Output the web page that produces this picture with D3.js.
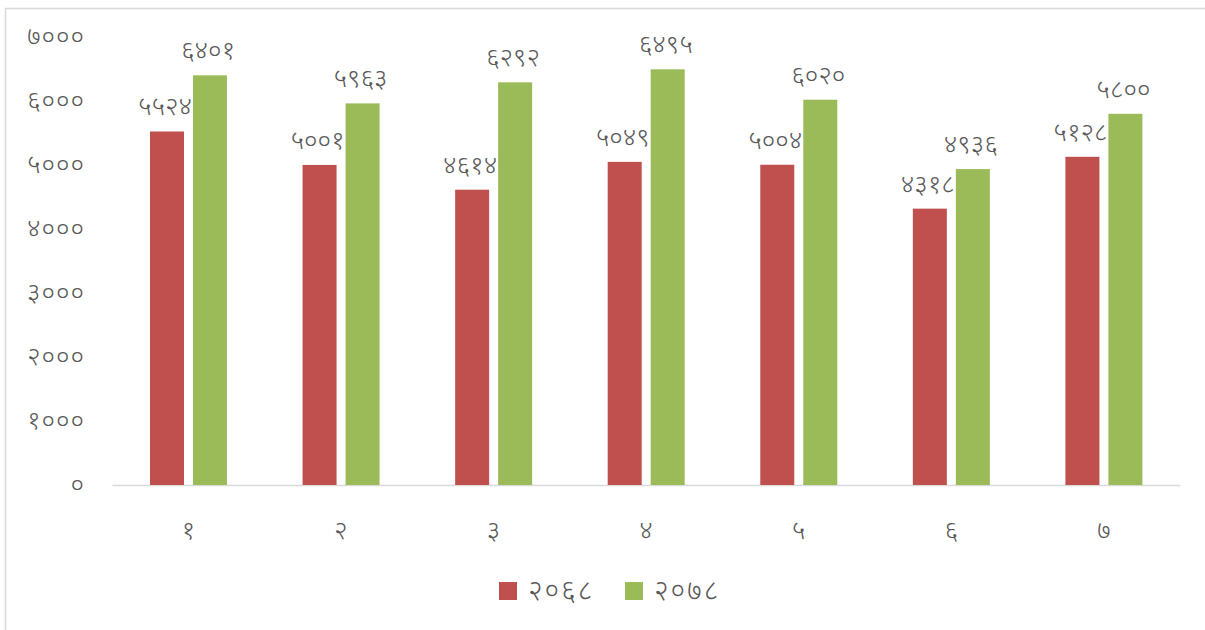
<!DOCTYPE html>
<html><head><meta charset="utf-8">
<script src="https://cdn.jsdelivr.net/npm/d3@7"></script>
<style>
html,body{margin:0;padding:0;background:#fff;}
text{font-family:"Noto Sans Devanagari","Noto Sans","Lohit Devanagari","DejaVu Sans",sans-serif;fill:#595959;font-weight:300;}
</style></head>
<body>
<svg id="chart" width="1205" height="630"></svg>
<script>
const categories = ["१","२","३","४","५","६","७"];
const seriesNames = ["२०६८","२०७८"];
const values2068 = [5524,5001,4614,5049,5004,4318,5128];
const values2078 = [6401,5963,6292,6495,6020,4936,5800];
const yTicks = [0,1000,2000,3000,4000,5000,6000,7000];
const colors = ["#C0504D","#9BBB59"];

const devDigits = "०१२३४५६७८९";
const toDev = n => String(n).replace(/[0-9]/g, d => devDigits[+d]);

const svg = d3.select("#chart");
svg.append("line").attr("x1",5.5).attr("x2",1205).attr("y1",8.5).attr("y2",8.5).attr("stroke","#d9d9d9").attr("stroke-width",1.5);
svg.append("line").attr("x1",5.5).attr("x2",5.5).attr("y1",8).attr("y2",630).attr("stroke","#d9d9d9").attr("stroke-width",1.5);

const x0 = d3.scaleBand().domain(categories).range([112,1180]).paddingInner(0).paddingOuter(0);
const x1 = d3.scaleBand().domain(seriesNames).range([-38.3,38.7]).paddingInner(0.209);
const y = d3.scaleLinear().domain([0,7000]).range([485,37]);

const yAxis = d3.axisLeft(y).tickValues(yTicks).tickFormat(toDev).tickSize(0).tickPadding(0);
const ya = svg.append("g").attr("transform","translate(85,0)").call(yAxis);
ya.select(".domain").remove();
ya.selectAll("text").attr("font-size",26).attr("dy","0.3em").attr("letter-spacing",1).style("fill","#595959").style("font-family",null);

const xAxis = d3.axisBottom(x0).tickSize(0).tickPadding(0).tickFormat(d=>d);
const xa = svg.append("g").attr("transform","translate(0,485)").call(xAxis);
xa.select(".domain").attr("stroke","#d9d9d9").attr("stroke-width",1.5);
xa.selectAll("text").attr("font-size",26).attr("dy",0).attr("y",54).style("fill","#595959").style("font-family",null);

const series = [values2068, values2078];
const groups = svg.append("g");
series.forEach((vals, si) => {
  groups.selectAll(null).data(vals).enter().append("rect")
    .attr("x",(d,i)=>x0(categories[i])+x0.bandwidth()/2 + x1(seriesNames[si]))
    .attr("y",d=>y(d))
    .attr("width",x1.bandwidth())
    .attr("height",d=>485-y(d))
    .attr("fill",colors[si]);
  groups.selectAll(null).data(vals).enter().append("text")
    .attr("x",(d,i)=>x0(categories[i])+x0.bandwidth()/2 + x1(seriesNames[si]) + x1.bandwidth()/2 - 2)
    .attr("y",d=>y(d)-16)
    .attr("text-anchor","middle")
    .attr("font-size",26)
    .text(d=>toDev(d));
});

const legend = svg.append("g");
const legX = [499,625];
seriesNames.forEach((s,i)=>{
  legend.append("rect").attr("x",legX[i]).attr("y",582).attr("width",18).attr("height",18).attr("fill",colors[i]);
  legend.append("text").attr("x",legX[i]+29).attr("y",600).attr("font-size",28).attr("letter-spacing",2).text(s);
});
</script>
</body></html>
